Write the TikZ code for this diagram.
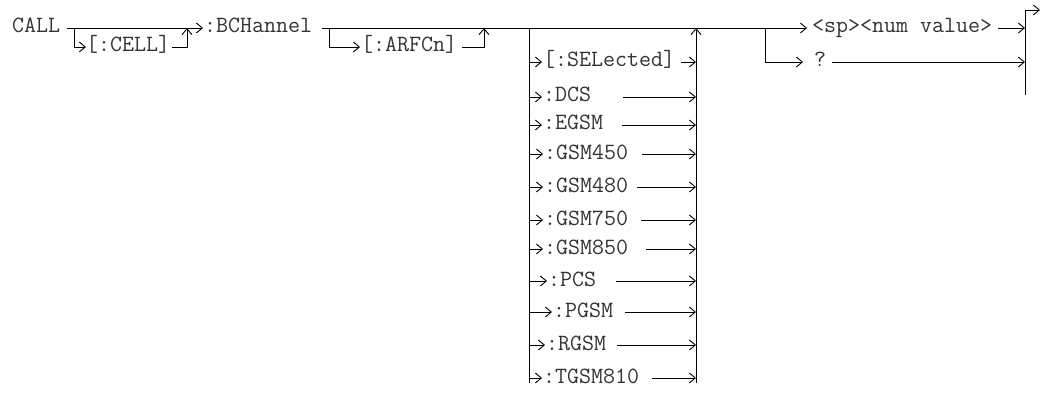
\documentclass[tikz,border=0pt]{standalone}
\usepackage{fontspec}
\usetikzlibrary{arrows.meta}
\tikzset{
  keyword/.style={
    font=\ttfamily\fontsize{23.3}{27}\selectfont,
    text=black!80,
    inner sep=0pt,
    text height=10pt,
    text depth=0pt,
    anchor=west
  },
  track/.style={
    line width=0.9pt
  },
  arrowtrack/.style={
    track,
    ->
  }
}

\begin{document}
\begin{tikzpicture}[x=1pt, y=-1pt, >={Straight Barb[length=6pt,width=10pt]}]
  % Keep the page as large as the reference
  \useasboundingbox (0,0) rectangle (1046,393);

  % CALL and the optional :CELL
  \node[keyword] (call) at (12,28) {CALL};
  \node[keyword] (cell) at (86,47) {[:CELL]};
  \node[keyword] (bch) at (204,28) {:BCHannel};
  \coordinate (j1) at (74,28);
  \coordinate (j2) at (187,28);
  \draw[arrowtrack, shorten <=7pt, shorten >=1pt] (call) -- (bch);
  \draw[arrowtrack] (j1) |- (cell);
  \draw[arrowtrack, shorten <=2pt] (cell) -| (j2);

  % optional :ARFCn
  \node[keyword] (arfcn) at (361,47) {[:ARFCn]};
  \coordinate (j3) at (329,28);
  \coordinate (j4) at (484,28);
  \draw[arrowtrack, shorten >=1pt] (j3) |- (arfcn);
  \draw[arrowtrack, shorten <=5pt] (arfcn) -| (j4);

  % band choices
  \coordinate (lbar-top) at (529,28);
  \coordinate (lbar-bot) at (529,383);
  \coordinate (rbar-top) at (696,28);
  \coordinate (rbar-bot) at (696,383);
  \draw[track] (lbar-top) -- (lbar-bot);
  \draw[arrowtrack] (rbar-bot) -- (rbar-top);
  \foreach \nm/\lbl/\yy/\xx/\xr in {
      sel/{[:SELected]}/62/543/681,
      dcs/:DCS/97/543/623,
      egsm/:EGSM/125/543/622,
      gsma/:GSM450/154/544/642,
      gsmb/:GSM480/187/544/637,
      gsmc/:GSM750/220/544/641,
      gsmd/:GSM850/249/544/646,
      pcs/:PCS/281/548/616,
      pgsm/:PGSM/312/553/625,
      rgsm/:RGSM/345/546/617,
      tgsm/:TGSM810/378/543/652} {
    \node[keyword] (\nm) at (\xx,\yy) {\lbl};
    \coordinate (\nm-r) at (\xr,\yy);
    \draw[arrowtrack, shorten >=1pt] (\nm -| lbar-top) -- (\nm);
    \draw[arrowtrack] (\nm-r) -- (\nm-r -| rbar-top);
  }

  % value or query
  \node[keyword] (spnum) at (812,28) {<sp><num value>};
  \node[keyword] (query) at (814,62) {?};
  \coordinate (j5) at (765,28);
  \coordinate (end-top) at (1025,10);
  \coordinate (end-bot) at (1025,95);
  \coordinate (end-tip) at (1040,10);
  \draw[arrowtrack, shorten <=10pt, shorten >=5pt] (bch) -- (spnum);
  \draw[arrowtrack, shorten >=11pt] (j5) |- (query);
  \draw[arrowtrack, shorten <=6pt] (spnum) -- (spnum -| end-top);
  \draw[arrowtrack, shorten <=6pt] (query) -- (query -| end-top);
  \draw[track] (end-bot) -- (end-top);
  \draw[arrowtrack] (end-top) -- (end-tip);
\end{tikzpicture}
\end{document}
